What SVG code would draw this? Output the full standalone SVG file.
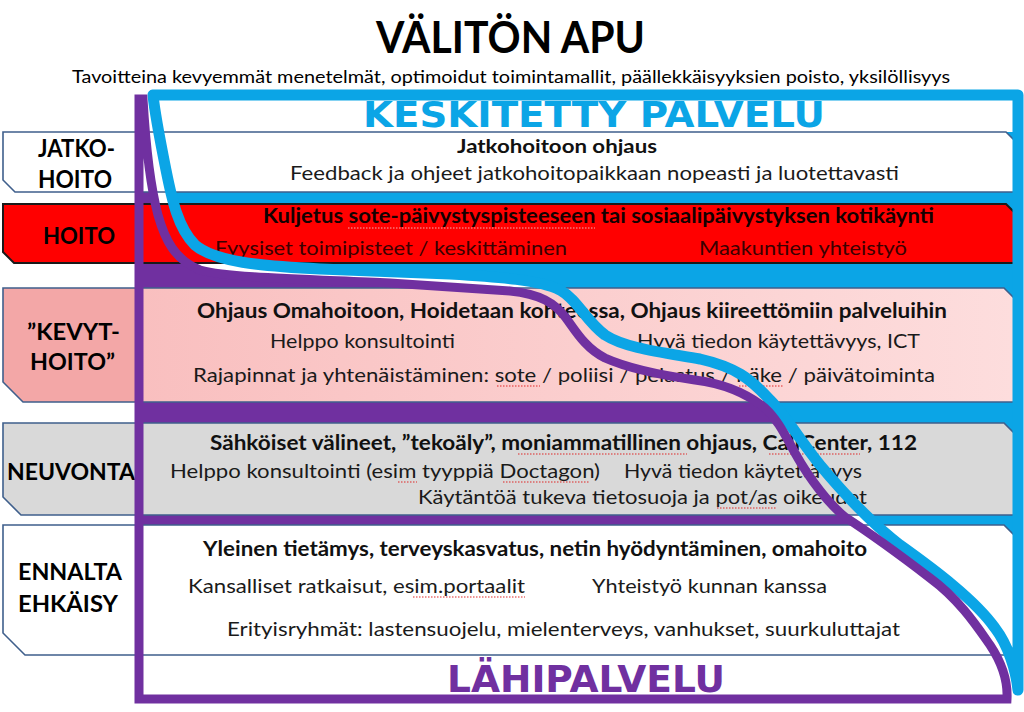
<svg xmlns="http://www.w3.org/2000/svg" width="1024" height="712" viewBox="0 0 1024 712">
<style>
.t{font-family:Lato,'Liberation Sans',sans-serif}
.lbl{font-family:Lato,'Liberation Sans',sans-serif;font-weight:700;fill:#000}
.b{font-family:Lato,'Liberation Sans',sans-serif;font-weight:700;font-size:20px;fill:#111}
.n{font-family:Lato,'Liberation Sans',sans-serif;font-size:19px;fill:#1a1a1a}
.hn{font-family:Lato,'Liberation Sans',sans-serif;font-size:19px;fill:#3a0000}
.hb{font-family:Lato,'Liberation Sans',sans-serif;font-weight:700;font-size:20px;fill:#140000}
.row{stroke:#3F5F8C;stroke-width:1.6}
.sq{stroke:#E02828;stroke-width:1.2;stroke-dasharray:1.5 1.5;fill:none}
.bfill{fill:#0BA5E6}
.bline{fill:none;stroke:#0BA5E6;stroke-width:11;stroke-linejoin:round}
.pfill{fill:#7030A0}
.pline{fill:none;stroke:#7030A0;stroke-width:9;stroke-linejoin:miter}
.big{font-family:'DejaVu Sans','Liberation Sans',sans-serif;font-weight:700}
</style>
<defs>
<path id="bluePath" d="M153,95 L1018,95 L1018,690 C1016,670 1008,645 995,628 C975,600 935,570 900,545 C870,522 845,495 820,465 C800,440 785,415 770,400 C750,378 735,367 700,359 C660,352 625,348 605,335 C585,320 578,300 560,290 C540,280 500,277 450,274 L320,269 C260,266 215,262 195,245 C178,228 172,200 166,170 C160,140 155,115 153,95 Z"/>
<path id="purplePath" d="M139,99 L139,699 L1007,699 C1008,680 1000,660 990,645 C978,628 960,600 930,578 C900,555 865,530 845,517 C830,505 810,480 795,453 C785,435 778,420 765,408 C745,392 720,383 695,380 C660,375 625,367 605,358 C585,348 575,330 566,318 C555,303 540,294 510,291 L390,283 C300,279 230,278 200,270 C175,260 165,240 158,215 C150,185 146,150 143,99 Z"/>
<linearGradient id="pinkGrad" x1="0" y1="0" x2="1" y2="0">
<stop offset="0" stop-color="#F9BFBF"/>
<stop offset="1" stop-color="#FDDDDD"/>
</linearGradient>
</defs>
<rect width="1024" height="712" fill="#fff"/>
<g id="title">
<text class="t" x="376" y="53" font-size="44" font-weight="700" fill="#000" textLength="269" lengthAdjust="spacingAndGlyphs">VÄLITÖN APU</text>
<text class="t" x="72" y="83" font-size="18" fill="#000" textLength="878" lengthAdjust="spacingAndGlyphs">Tavoitteina kevyemmät menetelmät, optimoidut toimintamallit, päällekkäisyyksien poisto, yksilöllisyys</text>
</g>
<g id="band-fills">
<use href="#bluePath" class="bfill"/>
<use href="#purplePath" class="pfill"/>
</g>
<g id="keskitetty-area">
<rect x="150" y="100" width="864" height="32" fill="#fff"/>
</g>
<g id="lahipalvelu-area">
<rect x="140" y="655" width="866" height="40" fill="#fff"/>
</g>
<g id="row-jatkohoito">
<path class="row" fill="#fff" d="M3,132 L1006,132 L1014,140 L1014,192 L15,192 L3,180 Z"/>
<text class="lbl" x="38" y="157" font-size="25" textLength="77" lengthAdjust="spacingAndGlyphs">JATKO-</text>
<text class="lbl" x="38" y="188" font-size="25" textLength="74" lengthAdjust="spacingAndGlyphs">HOITO</text>
<text class="b" x="457" y="153" font-size="18" style="font-size:18px" textLength="200" lengthAdjust="spacingAndGlyphs">Jatkohoitoon ohjaus</text>
<text class="n" x="290" y="180" textLength="609" lengthAdjust="spacingAndGlyphs">Feedback ja ohjeet jatkohoitopaikkaan nopeasti ja luotettavasti</text>
</g>
<g id="row-hoito">
<path fill="#FF0000" stroke="#1a1a1a" stroke-width="2" d="M3,204 L1006,204 L1014,212 L1014,263 L14,263 L3,252 Z"/>
<text class="lbl" x="43" y="244" font-size="23" textLength="72" lengthAdjust="spacingAndGlyphs">HOITO</text>
<text class="hb" x="263" y="223" textLength="671" lengthAdjust="spacingAndGlyphs">Kuljetus sote-päivystyspisteeseen tai sosiaalipäivystyksen kotikäynti</text>
<text class="hn" x="215" y="255" textLength="352" lengthAdjust="spacingAndGlyphs">Fyysiset toimipisteet / keskittäminen</text>
<text class="hn" x="699" y="255" textLength="208" lengthAdjust="spacingAndGlyphs">Maakuntien yhteistyö</text>
<line class="sq" x1="348" y1="228" x2="595" y2="228" style="stroke:#F2B0B0"/>
</g>
<g id="row-kevythoito">
<path class="row" fill="#F3A7A7" d="M3,288 L137,288 L137,402 L23,402 L3,382 Z"/>
<path class="row" fill="url(#pinkGrad)" d="M137,288 L1004,288 L1014,298 L1014,402 L137,402 Z"/>
<text class="lbl" x="27" y="340" font-size="22" textLength="93" lengthAdjust="spacingAndGlyphs">”KEVYT-</text>
<text class="lbl" x="30" y="370" font-size="22" textLength="85" lengthAdjust="spacingAndGlyphs">HOITO”</text>
<text class="b" x="197" y="318" textLength="750" lengthAdjust="spacingAndGlyphs">Ohjaus Omahoitoon, Hoidetaan kohteessa, Ohjaus kiireettömiin palveluihin</text>
<text class="n" x="270" y="348" textLength="185" lengthAdjust="spacingAndGlyphs">Helppo konsultointi</text>
<text class="n" x="637" y="348" textLength="283" lengthAdjust="spacingAndGlyphs">Hyvä tiedon käytettävyys, ICT</text>
<text class="n" x="193" y="382" textLength="742" lengthAdjust="spacingAndGlyphs">Rajapinnat ja yhtenäistäminen: sote / poliisi / pelastus / häke / päivätoiminta</text>
<line class="sq" x1="497" y1="386" x2="540" y2="386"/>
<line class="sq" x1="739" y1="386" x2="784" y2="386"/>
</g>
<g id="row-neuvonta">
<path class="row" fill="#D9D9D9" d="M3,423 L1004,423 L1014,433 L1014,515 L21,515 L3,497 Z"/>
<text class="lbl" x="7" y="480" font-size="22" textLength="128" lengthAdjust="spacingAndGlyphs">NEUVONTA</text>
<text class="b" x="210" y="450" textLength="707" lengthAdjust="spacingAndGlyphs">Sähköiset välineet, ”tekoäly”, moniammatillinen ohjaus, CallCenter, 112</text>
<text class="n" x="170" y="478" textLength="430" lengthAdjust="spacingAndGlyphs">Helppo konsultointi (esim tyyppiä Doctagon)</text>
<text class="n" x="624" y="478" textLength="238" lengthAdjust="spacingAndGlyphs">Hyvä tiedon käytettävyys</text>
<text class="n" x="418" y="504" textLength="449" lengthAdjust="spacingAndGlyphs">Käytäntöä tukeva tietosuoja ja pot/as oikeudet</text>
<line class="sq" x1="518" y1="454" x2="687" y2="454"/>
<line class="sq" x1="769" y1="454" x2="860" y2="454"/>
<line class="sq" x1="398" y1="482" x2="417" y2="482"/>
<line class="sq" x1="503" y1="482" x2="590" y2="482"/>
<line class="sq" x1="717" y1="508" x2="777" y2="508"/>
</g>
<g id="row-ennalta-ehkaisy">
<path class="row" fill="#fff" d="M3,525 L1004,525 L1014,535 L1014,655 L25,655 L3,633 Z"/>
<text class="lbl" x="18" y="580" font-size="22" textLength="104" lengthAdjust="spacingAndGlyphs">ENNALTA</text>
<text class="lbl" x="18" y="612" font-size="22" textLength="100" lengthAdjust="spacingAndGlyphs">EHKÄISY</text>
<text class="b" x="203" y="556" textLength="664" lengthAdjust="spacingAndGlyphs">Yleinen tietämys, terveyskasvatus, netin hyödyntäminen, omahoito</text>
<text class="n" x="188" y="593" textLength="337" lengthAdjust="spacingAndGlyphs">Kansalliset ratkaisut, esim.portaalit</text>
<text class="n" x="592" y="593" textLength="235" lengthAdjust="spacingAndGlyphs">Yhteistyö kunnan kanssa</text>
<text class="n" x="227" y="636" textLength="673" lengthAdjust="spacingAndGlyphs">Erityisryhmät: lastensuojelu, mielenterveys, vanhukset, suurkuluttajat</text>
<line class="sq" x1="413" y1="597" x2="525" y2="597"/>
</g>
<g id="connectors">
<use href="#bluePath" class="bline"/>
<use href="#purplePath" class="pline"/>
</g>
<g id="header-keskitetty">
<text class="big" x="363" y="127" font-size="35" fill="#0BA5E6" textLength="462" lengthAdjust="spacingAndGlyphs">KESKITETTY PALVELU</text>
</g>
<g id="header-lahipalvelu">
<text class="big" x="447" y="692" font-size="37" fill="#7030A0" textLength="278" lengthAdjust="spacingAndGlyphs">LÄHIPALVELU</text>
</g>
</svg>
